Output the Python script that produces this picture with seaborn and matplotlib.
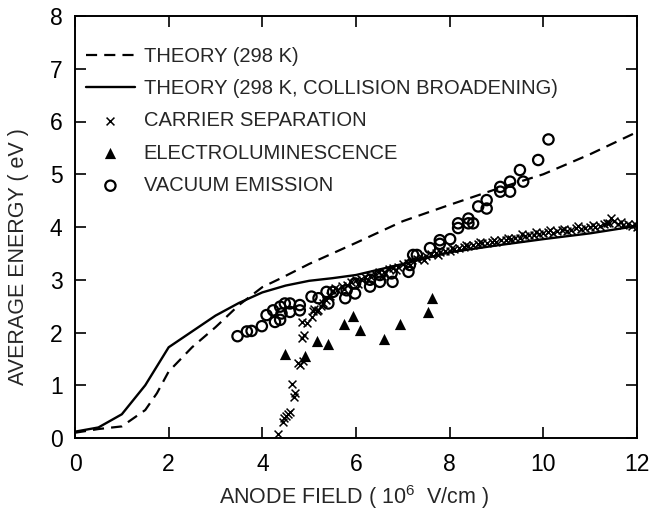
import numpy as np
import pandas as pd
import matplotlib
matplotlib.use("Agg")
import matplotlib.pyplot as plt
import seaborn as sns

# ---- data ----
theory_x = [0.0, 0.5, 1.0, 1.5, 1.75, 2.0, 2.5, 3.0, 3.5, 4.0, 4.4, 5.0, 6.0, 7.0, 8.0, 9.0, 10.0, 11.0, 12.0]
theory_y = [0.10, 0.17, 0.22, 0.53, 0.85, 1.26, 1.72, 2.10, 2.52, 2.86, 3.03, 3.30, 3.70, 4.11, 4.42, 4.72, 5.00, 5.38, 5.80]

broad_x = [0.0, 0.5, 1.0, 1.5, 2.0, 2.5, 3.0, 3.5, 4.0, 4.5, 5.0, 5.5, 6.0, 7.0, 8.0, 9.0, 10.0, 11.0, 12.0]
broad_y = [0.12, 0.20, 0.45, 1.00, 1.72, 2.02, 2.32, 2.56, 2.76, 2.89, 2.98, 3.03, 3.09, 3.30, 3.52, 3.65, 3.77, 3.88, 4.02]

carrier_x = [4.34, 4.45, 4.47, 4.50, 4.55, 4.60, 4.63, 4.67, 4.70, 4.77, 4.80, 4.87, 4.84, 4.85, 4.88,
             4.95, 5.05, 5.08, 5.10, 5.16, 5.18, 5.25, 5.30, 5.35, 5.45, 5.50, 5.60, 5.70, 5.80, 5.90,
             6.00, 6.10, 6.20, 6.30, 6.40, 6.50, 6.60, 6.70, 6.80, 6.90, 7.00, 7.10, 7.20, 7.30, 7.40,
             7.50, 7.60, 7.70, 7.80, 7.90, 8.00, 8.10, 8.20, 8.30, 8.40, 8.50, 8.60, 8.70, 8.80, 8.90,
             9.00, 9.10, 9.20, 9.30, 9.40, 9.50, 9.60, 9.70, 9.80, 9.90, 10.00, 10.10, 10.20, 10.30, 10.40,
             10.50, 10.60, 10.70, 10.80, 10.90, 11.00, 11.10, 11.20, 11.30, 11.40, 11.45, 11.50, 11.60, 11.70,
             11.80, 11.90, 12.00, 5.55, 5.75, 6.05, 6.25, 6.55, 6.85, 7.15, 7.45, 7.75,
             8.05, 8.35, 8.65, 8.95, 9.25, 9.55, 9.85, 10.15, 10.45, 10.75, 11.05, 11.35, 11.65, 11.95]
carrier_y = [0.08, 0.30, 0.37, 0.42, 0.45, 0.50, 1.02, 0.78, 0.85, 1.42, 1.38, 1.46, 2.20, 1.90, 1.95,
             2.18, 2.30, 2.40, 2.45, 2.40, 2.43, 2.50, 2.55, 2.62, 2.70, 2.78, 2.80, 2.88, 2.90, 2.95,
             3.00, 3.02, 3.05, 3.08, 3.10, 3.14, 3.15, 3.20, 3.22, 3.25, 3.30, 3.32, 3.38, 3.40, 3.42,
             3.45, 3.48, 3.50, 3.52, 3.55, 3.55, 3.58, 3.60, 3.62, 3.64, 3.65, 3.68, 3.70, 3.70, 3.72,
             3.72, 3.75, 3.76, 3.78, 3.80, 3.80, 3.83, 3.85, 3.84, 3.86, 3.88, 3.90, 3.88, 3.92, 3.95,
             3.93, 3.95, 3.98, 3.97, 3.98, 4.00, 4.00, 4.02, 4.05, 4.08, 4.18, 4.12, 4.05, 4.03,
             4.05, 4.02, 4.00, 2.85, 2.82, 2.92, 3.00, 3.08, 3.18, 3.28, 3.38, 3.46,
             3.60, 3.66, 3.72, 3.76, 3.80, 3.86, 3.90, 3.94, 3.97, 4.01, 4.04, 4.08, 4.10, 4.06]

electro_x = [4.49, 4.91, 5.16, 5.41, 5.75, 5.93, 6.09, 6.59, 6.94, 7.53, 7.62]
electro_y = [1.59, 1.55, 1.83, 1.79, 2.16, 2.32, 2.05, 1.88, 2.17, 2.39, 2.65]

vacuum_x = [3.47, 3.67, 3.77, 3.99, 4.09, 4.23, 4.27, 4.38, 4.41, 4.38, 4.48, 4.59, 4.59, 4.80, 4.80,
            5.05, 5.20, 5.37, 5.41, 5.51, 5.77, 5.80, 5.98, 5.98, 6.30, 6.30, 6.51, 6.51, 6.78, 6.76,
            7.12, 7.15, 7.22, 7.30, 7.58, 7.79, 7.79, 8.01, 8.18, 8.18, 8.40, 8.40, 8.50, 8.61, 8.79,
            8.79, 9.08, 9.08, 9.29, 9.29, 9.50, 9.57, 9.89, 10.11]
vacuum_y = [1.93, 2.02, 2.03, 2.12, 2.33, 2.42, 2.20, 2.49, 2.36, 2.24, 2.55, 2.55, 2.39, 2.52, 2.42,
            2.68, 2.65, 2.77, 2.55, 2.77, 2.65, 2.80, 2.74, 2.93, 2.87, 3.00, 2.96, 3.09, 2.96, 3.12,
            3.15, 3.28, 3.47, 3.47, 3.60, 3.75, 3.68, 3.77, 4.07, 3.98, 4.16, 4.07, 4.07, 4.39, 4.35,
            4.51, 4.76, 4.67, 4.86, 4.67, 5.08, 4.86, 5.27, 5.66]

x_ticks = [0, 2, 4, 6, 8, 10, 12]
y_ticks = [0, 1, 2, 3, 4, 5, 6, 7, 8]

# ---- style ----
sns.set_theme(style="ticks")
plt.rcParams["font.family"] = ["Liberation Sans", "DejaVu Sans"]
plt.rcParams["mathtext.fontset"] = "custom"
plt.rcParams["mathtext.rm"] = "Liberation Sans"
plt.rcParams["mathtext.default"] = "regular"

fig = plt.figure(figsize=(6.5, 5.16), dpi=100)
ax = fig.add_axes([75 / 650, 78 / 516, 562 / 650, 422 / 516])

df_t = pd.DataFrame({"x": theory_x, "y": theory_y})
df_b = pd.DataFrame({"x": broad_x, "y": broad_y})
sns.lineplot(data=df_t, x="x", y="y", ax=ax, color="black", lw=1.6,
             linestyle=(0, (5, 3.2)), label="THEORY (298 K)", sort=False)
sns.lineplot(data=df_b, x="x", y="y", ax=ax, color="black", lw=1.7,
             label="THEORY (298 K, COLLISION BROADENING)", sort=False)

sns.scatterplot(x=carrier_x, y=carrier_y, ax=ax, marker="x", color="black",
                s=32, linewidth=1.1, label="CARRIER SEPARATION", zorder=3)
sns.scatterplot(x=electro_x, y=electro_y, ax=ax, marker="^", color="black",
                s=65, linewidth=0, label="ELECTROLUMINESCENCE", zorder=3)
sns.scatterplot(x=vacuum_x, y=vacuum_y, ax=ax, marker="o", facecolor="none",
                edgecolor="black", s=55, linewidth=1.6, label="VACUUM EMISSION", zorder=3)

ax.set_xlim(0, 12)
ax.set_ylim(0, 8)
ax.set_xticks(x_ticks)
ax.set_yticks(y_ticks)
ax.tick_params(direction="in", length=8, width=1.2, labelsize=16.5, colors="black",
               top=True, right=True)
ax.tick_params(axis="x", pad=11)
ax.tick_params(axis="y", pad=9)
for sp in ax.spines.values():
    sp.set_linewidth(1.4)
    sp.set_color("black")

ax.set_xlabel(r"ANODE FIELD ( $10^{6}$  V/cm )", fontsize=15.5)
ax.set_ylabel("AVERAGE ENERGY ( eV )", fontsize=15.5)
ax.xaxis.set_label_coords(0.496, -0.14)
ax.yaxis.set_label_coords(-0.101, 0.431)
ax.xaxis.label.set_va("center")
ax.yaxis.label.set_va("center")

leg = ax.legend(loc="upper left", bbox_to_anchor=(0.02, 0.927), frameon=False,
                fontsize=14.5, handlelength=2.4, handletextpad=0.45,
                labelspacing=0.66, borderpad=0, borderaxespad=0)

fig.savefig("out.png", dpi=100)
